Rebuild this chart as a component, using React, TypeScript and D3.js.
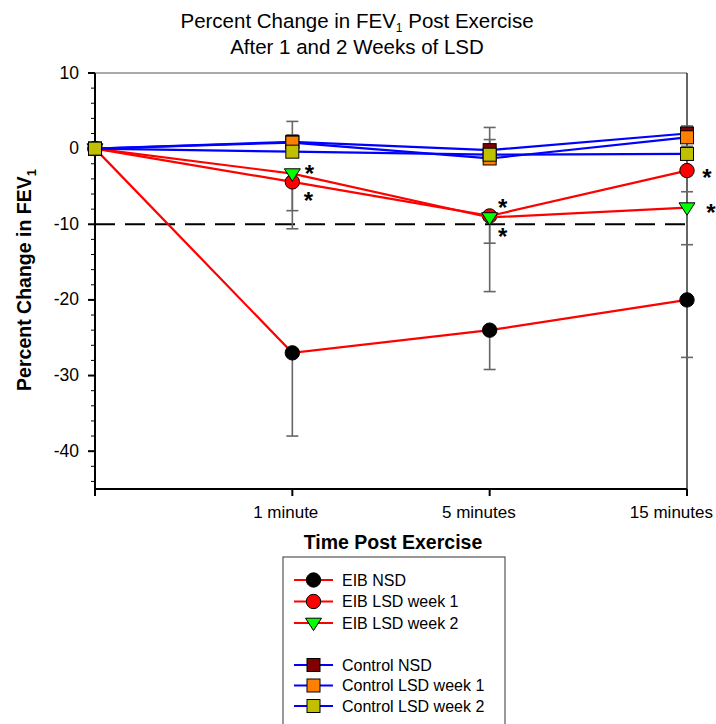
import React from 'react';
import * as d3 from 'd3';

// time points (index on x axis)
const timeLabels = ['', '1 minute', '5 minutes', '15 minutes'];
const timeIdx = [0, 1, 2, 3];

// EIB groups (error bars drawn downward)
const eibNsd = [0, -27, -24, -20];
const eibNsdErr = [0, 11, 5.2, 7.6];
const eibLsd1 = [0, -4.4, -8.9, -2.9];
const eibLsd1Err = [0, 6.2, 10, 2.8];
const eibLsd2 = [0, -3.3, -9.1, -7.8];
const eibLsd2Err = [0, 4.9, 3.4, 4.9];

// Control groups (error bars drawn upward)
const ctlNsd = [0, 0.9, -0.2, 2.0];
const ctlNsdErr = [0, 2.7, 3.0, 1.0];
const ctlLsd1 = [0, 0.8, -1.3, 1.5];
const ctlLsd1Err = [0, 1.0, 2.5, 1.0];
const ctlLsd2 = [0, -0.4, -0.8, -0.7];
const ctlLsd2Err = [0, 1.0, 1.0, 1.0];

const yMajor = [10, 0, -10, -20, -30, -40];
const threshold = -10;

// significance markers: time index, value, pixel offset
const stars = [
  { t: 1, v: -2.7, dx: 17 },
  { t: 1, v: -6.2, dx: 16 },
  { t: 2, v: -7.2, dx: 13 },
  { t: 2, v: -11.0, dx: 13 },
  { t: 3, v: -3.2, dx: 20 },
  { t: 3, v: -7.8, dx: 24 },
];

type Shape = 'circle' | 'square' | 'triangle';
interface Series {
  name: string;
  values: number[];
  err: number[];
  dir: number; // -1 down, 1 up
  line: string;
  fill: string;
  shape: Shape;
}

const series: Series[] = [
  { name: 'EIB NSD', values: eibNsd, err: eibNsdErr, dir: -1, line: '#ff0000', fill: '#000000', shape: 'circle' },
  { name: 'EIB LSD week 1', values: eibLsd1, err: eibLsd1Err, dir: -1, line: '#ff0000', fill: '#ff0000', shape: 'circle' },
  { name: 'EIB LSD week 2', values: eibLsd2, err: eibLsd2Err, dir: -1, line: '#ff0000', fill: '#00ff00', shape: 'triangle' },
  { name: 'Control NSD', values: ctlNsd, err: ctlNsdErr, dir: 1, line: '#0000ff', fill: '#800000', shape: 'square' },
  { name: 'Control LSD week 1', values: ctlLsd1, err: ctlLsd1Err, dir: 1, line: '#0000ff', fill: '#ff8000', shape: 'square' },
  { name: 'Control LSD week 2', values: ctlLsd2, err: ctlLsd2Err, dir: 1, line: '#0000ff', fill: '#c0c000', shape: 'square' },
];

const W = 716;
const H = 724;
const margin = { top: 73, right: 29, bottom: 235, left: 95 };

const Marker: React.FC<{ shape: Shape; x: number; y: number; fill: string }> = ({ shape, x, y, fill }) => {
  if (shape === 'circle') return <circle cx={x} cy={y} r={7.2} fill={fill} stroke="#000" strokeWidth={1} />;
  if (shape === 'square')
    return <rect x={x - 6.5} y={y - 6.5} width={13} height={13} fill={fill} stroke="#000" strokeWidth={1} />;
  const s = 8;
  return (
    <path
      d={`M${x - s},${y - s * 0.6} L${x + s},${y - s * 0.6} L${x},${y + s * 0.95} Z`}
      fill={fill}
      stroke="#000"
      strokeWidth={1}
    />
  );
};

const App: React.FC = () => {
  const x = d3.scaleLinear().domain([0, 3]).range([margin.left, W - margin.right]);
  const y = d3.scaleLinear().domain([-45, 10]).range([H - margin.bottom, margin.top]);
  const x0 = x(0);
  const x1 = x(3);
  const yTop = y(10);
  const yBot = y(-45);
  const minor = d3.range(-44, 10.1, 2).filter((v) => !yMajor.includes(v));

  const line = d3
    .line<number>()
    .x((_, i) => x(timeIdx[i]))
    .y((d) => y(d));

  const font = 'Arial, "Liberation Sans", Helvetica, sans-serif';
  const legendRows = [580, 601.5, 623, 665, 685.5, 706];

  return (
    <svg width={W} height={H} style={{ position: 'absolute', left: 0, top: 0 }} fontFamily={font}>
      <rect width={W} height={H} fill="#fff" />

      {/* title */}
      <text x={357} y={28} textAnchor="middle" fontSize={20.5}>
        Percent Change in FEV<tspan fontSize={12} dy={4}>1</tspan>
        <tspan dy={-4}> Post Exercise</tspan>
      </text>
      <text x={357} y={54} textAnchor="middle" fontSize={20.5}>
        After 1 and 2 Weeks of LSD
      </text>

      {/* frame */}
      <line x1={x0} x2={x1} y1={yTop} y2={yTop} stroke="#555" strokeWidth={1} />
      <line x1={x1} x2={x1} y1={yTop} y2={yBot} stroke="#000" strokeWidth={1.2} />

      {/* y axis */}
      <line x1={x0} x2={x0} y1={yTop} y2={yBot + 5} stroke="#000" strokeWidth={2} />
      {yMajor.map((v) => (
        <g key={v}>
          <line x1={x0 - 7} x2={x0} y1={y(v)} y2={y(v)} stroke="#000" strokeWidth={2} />
          <text x={x0 - 16} y={y(v) + 5.5} textAnchor="end" fontSize={17.5}>
            {v}
          </text>
        </g>
      ))}
      {minor.map((v) => (
        <line key={v} x1={x0 - 4} x2={x0} y1={y(v)} y2={y(v)} stroke="#000" strokeWidth={1} />
      ))}

      {/* x axis */}
      <line x1={x0} x2={x1} y1={yBot} y2={yBot} stroke="#000" strokeWidth={2} />
      {timeIdx.map((t) => (
        <g key={t}>
          <line x1={x(t)} x2={x(t)} y1={yBot} y2={yBot + 7} stroke="#000" strokeWidth={2} />
          <text x={x(t) + 26} y={yBot + 29} textAnchor="end" fontSize={17}>
            {timeLabels[t]}
          </text>
        </g>
      ))}

      <text x={(x0 + x1) / 2 + 2} y={yBot + 60} textAnchor="middle" fontSize={19.5} fontWeight="bold">
        Time Post Exercise
      </text>
      <text transform={`translate(31,280) rotate(-90)`} textAnchor="middle" fontSize={19.5} fontWeight="bold">
        Percent Change in FEV<tspan fontSize={13} dy={5}>1</tspan>
      </text>

      {/* reference line */}
      <line x1={x0} x2={x1} y1={y(threshold)} y2={y(threshold)} stroke="#000" strokeWidth={2} strokeDasharray="20 10" />

      {/* error bars */}
      {series.map((s) =>
        s.values.map((v, i) =>
          s.err[i] > 0 ? (
            <g key={s.name + i} stroke="#666" strokeWidth={1.6}>
              <line x1={x(i)} x2={x(i)} y1={y(v)} y2={y(v + s.dir * s.err[i])} />
              <line x1={x(i) - 6} x2={x(i) + 6} y1={y(v + s.dir * s.err[i])} y2={y(v + s.dir * s.err[i])} />
            </g>
          ) : null,
        ),
      )}

      {/* series */}
      {series.map((s) => (
        <g key={s.name}>
          <path d={line(s.values) ?? ''} fill="none" stroke={s.line} strokeWidth={2.2} />
          {s.values.map((v, i) => (
            <Marker key={i} shape={s.shape} x={x(i)} y={y(v)} fill={s.fill} />
          ))}
        </g>
      ))}

      {/* significance stars */}
      {stars.map((st, i) => (
        <text key={i} x={x(st.t) + st.dx} y={y(st.v) + 13} textAnchor="middle" fontSize={24} fontWeight="bold">
          *
        </text>
      ))}

      {/* legend */}
      <rect x={283} y={557} width={222} height={200} fill="none" stroke="#555" strokeWidth={1.2} />
      {series.map((s, i) => (
        <g key={s.name}>
          <line x1={294} x2={333} y1={legendRows[i]} y2={legendRows[i]} stroke={s.line} strokeWidth={2.2} />
          <Marker shape={s.shape} x={313.5} y={legendRows[i]} fill={s.fill} />
          <text x={342} y={legendRows[i] + 5.5} fontSize={16}>
            {s.name}
          </text>
        </g>
      ))}
    </svg>
  );
};

export default App;
